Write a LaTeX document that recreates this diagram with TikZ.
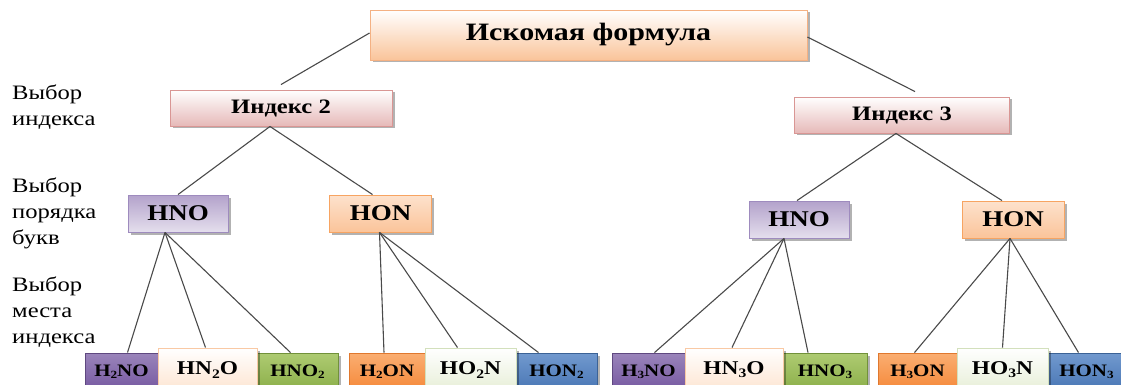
\documentclass[tikz,border=0pt]{standalone}
\usepackage{fontspec}
\setmainfont{Liberation Serif}[FakeStretch=1.2]
\usetikzlibrary{shadows,calc}
\definecolor{peachB}{HTML}{FAC49A}
\definecolor{peachD}{HTML}{F4B183}
\definecolor{pinkB}{HTML}{E6B9B8}
\definecolor{pinkD}{HTML}{D99694}
\definecolor{lavB}{HTML}{B3A2CB}
\definecolor{lavD}{HTML}{9E8BBE}
\definecolor{orgB}{HTML}{FBC49A}
\definecolor{orgD}{HTML}{F7A462}
\definecolor{purT}{HTML}{9A84BA}
\definecolor{purB}{HTML}{7659A1}
\definecolor{purD}{HTML}{5F4880}
\definecolor{grnT}{HTML}{AECB72}
\definecolor{grnB}{HTML}{8CAF4A}
\definecolor{grnD}{HTML}{71913A}
\definecolor{oraT}{HTML}{FAAE72}
\definecolor{oraB}{HTML}{F5893A}
\definecolor{oraD}{HTML}{E0782E}
\definecolor{bluT}{HTML}{7199CE}
\definecolor{bluB}{HTML}{4A77B5}
\definecolor{bluD}{HTML}{3B6296}
\definecolor{pchB}{HTML}{FDE4D0}
\definecolor{pchD}{HTML}{F9C9A4}
\definecolor{lgrB}{HTML}{E6EED6}
\definecolor{lgrD}{HTML}{D3E0BC}
\definecolor{linec}{HTML}{4A4A4A}
\newcommand\sbd[1]{\raisebox{-0.3ex}{\fontsize{11}{11}\selectfont #1}}
\newcommand\sbn[1]{\raisebox{-0.35ex}{\fontsize{13}{13}\selectfont #1}}
\tikzset{
  shbox/.style={line width=0.9pt, inner sep=0pt,
    drop shadow={shadow xshift=2.5pt, shadow yshift=-2.5pt, fill=black, opacity=0.3}},
  topbox/.style={shbox, draw=peachD, top color=white, bottom color=peachB,
    minimum width=437pt, minimum height=50pt, font=\bfseries\fontsize{25}{25}\selectfont},
  idxbox/.style={shbox, draw=pinkD, top color=white, bottom color=pinkB,
    minimum height=36pt, font=\bfseries\fontsize{20.5}{20.5}\selectfont},
  lavbox/.style={shbox, draw=lavD, top color=lavB, bottom color=lavB!35!white,
    minimum width=100pt, minimum height=37pt, font=\bfseries\fontsize{22.5}{22.5}\selectfont},
  orgbox/.style={shbox, draw=orgD, top color=orgB!50!white, bottom color=orgB,
    minimum width=102pt, minimum height=37pt, font=\bfseries\fontsize{22.5}{22.5}\selectfont},
  bbox/.style={shbox, minimum height=37pt, font=\bfseries\fontsize{17.5}{17.5}\selectfont},
  bmid/.style={shbox, minimum height=44pt, font=\bfseries\fontsize{19.5}{19.5}\selectfont},
  bpur/.style={bbox, draw=purD, top color=purT, bottom color=purB},
  bgrn/.style={bbox, draw=grnD, top color=grnT, bottom color=grnB},
  bora/.style={bbox, draw=oraD, top color=oraT, bottom color=oraB},
  bblu/.style={bbox, draw=bluD, top color=bluT, bottom color=bluB},
  bpch/.style={bmid, draw=pchD, top color=white, bottom color=pchB},
  blgr/.style={bmid, draw=lgrD, top color=white, bottom color=lgrB},
  conn/.style={draw=linec, line width=1.1pt},
  lbl/.style={anchor=west, align=left, inner sep=0pt, font=\fontsize{20.5}{26}\selectfont}
}
\begin{document}
\begin{tikzpicture}[x=1pt,y=-1pt]
\useasboundingbox (0,0) rectangle (1121,385);
\clip (0,0) rectangle (1121,385);
\fill[white] (0,0) rectangle (1121,385);

% side labels
\node[lbl] (l1) at (12,107) {Выбор\\индекса};
\node[lbl] (l2) at (12,213) {Выбор\\порядка\\букв};
\node[lbl] (l3) at (12,312) {Выбор\\места\\индекса};

% tree nodes
\node[topbox] (top) at (588.5,35) {Искомая формула};
\node[idxbox, minimum width=222pt] (i2) at (281,108) {Индекс 2};
\node[idxbox, minimum width=215pt] (i3) at (902,115) {Индекс 3};
\node[lavbox] (hnoA) at (178,213.5) {HNO};
\node[orgbox] (honA) at (380.5,213.5) {HON};
\node[lavbox] (hnoB) at (799,219.5) {HNO};
\node[orgbox] (honB) at (1013,219.5) {HON};

% bottom row, outer boxes
\node[bpur, minimum width=73pt] (b1) at (121.5,371.5) {H\sbd{2}NO};
\node[bgrn, minimum width=81pt] (b3) at (297.5,371.5) {HNO\sbd{2}};
\node[bora, minimum width=76pt] (b4) at (387,371.5) {H\sbd{2}ON};
\node[bblu, minimum width=81pt] (b6) at (556.5,371.5) {HON\sbd{2}};
\node[bpur, minimum width=73pt] (b7) at (648.5,371.5) {H\sbd{3}NO};
\node[bgrn, minimum width=84pt] (b9) at (825,371.5) {HNO\sbd{3}};
\node[bora, minimum width=79pt] (b10) at (917.5,371.5) {H\sbd{3}ON};
\node[bblu, minimum width=77pt] (b12) at (1086.5,371.5) {HON\sbd{3}};
% bottom row, middle boxes
\node[bpch, minimum width=99pt] (b2) at (207.5,370) {HN\sbn{2}O};
\node[blgr, minimum width=91pt] (b5) at (470.5,370) {HO\sbn{2}N};
\node[bpch, minimum width=98pt] (b8) at (734,370) {HN\sbn{3}O};
\node[blgr, minimum width=91pt] (b11) at (1002.5,370) {HO\sbn{3}N};

% connectors
\draw[conn] ([yshift=2pt]top.west) -- ([yshift=5pt]i2.north);
\draw[conn] ([yshift=-2pt]top.east) -- ([xshift=13pt,yshift=5pt]i3.north);
\draw[conn] ([xshift=-11pt]i2.south) -- (hnoA.north);
\draw[conn] ([xshift=-11pt]i2.south) -- ([xshift=-8pt]honA.north);
\draw[conn] ([xshift=-6pt]i3.south) -- ([xshift=-2pt]hnoB.north);
\draw[conn] ([xshift=-6pt]i3.south) -- ([xshift=-11pt]honB.north);

\draw[conn] ([xshift=-13pt]hnoA.south) -- ([xshift=6pt]b1.north);
\draw[conn] ([xshift=-13pt]hnoA.south) -- ([xshift=-2pt]b2.north);
\draw[conn] ([xshift=-13pt]hnoA.south) -- ([xshift=-7pt]b3.north);
\draw[conn] ([xshift=-1pt]honA.south) -- ([xshift=-3pt]b4.north);
\draw[conn] ([xshift=-1pt]honA.south) -- ([xshift=-13pt]b5.north);
\draw[conn] ([xshift=-1pt]honA.south) -- ([xshift=-18pt]b6.north);
\draw[conn] ([xshift=-15pt]hnoB.south) -- ([xshift=6pt]b7.north);
\draw[conn] ([xshift=-15pt]hnoB.south) -- ([xshift=-2pt]b8.north);
\draw[conn] ([xshift=-15pt]hnoB.south) -- ([xshift=-17pt]b9.north);
\draw[conn] ([xshift=-3pt]honB.south) -- ([xshift=-3pt]b10.north);
\draw[conn] ([xshift=-3pt]honB.south) -- (b11.north);
\draw[conn] ([xshift=-3pt]honB.south) -- ([xshift=-8pt]b12.north);
\end{tikzpicture}
\end{document}
